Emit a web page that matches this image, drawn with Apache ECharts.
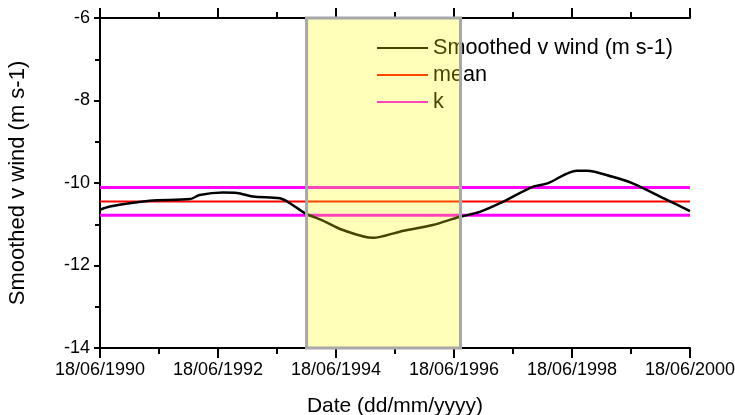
<!DOCTYPE html>
<html>
<head>
<meta charset="utf-8">
<script src="https://cdn.jsdelivr.net/npm/echarts@6/dist/echarts.min.js"></script>
<style>
  html, body { margin: 0; padding: 0; background: #fff; }
  #chart { width: 735px; height: 415px; }
</style>
</head>
<body>
<div id="chart"></div>
<script>
// data
const dates = [
  '1990-06-18', '1990-08-18', '1991-04-23', '1991-12-28', '1992-02-25', '1992-07-18',
  '1992-10-13', '1993-01-20', '1993-07-06', '1993-09-06', '1993-12-07', '1994-03-29',
  '1994-07-31', '1995-02-03', '1995-07-18', '1996-02-07', '1996-07-24', '1996-11-25',
  '1997-03-30', '1997-10-21', '1998-01-17', '1998-07-18', '1998-09-18', '1999-02-25',
  '1999-06-29', '2000-01-27', '2000-06-18'
];
const smoothedV = [
  -10.65, -10.57, -10.43, -10.39, -10.29, -10.23,
  -10.24, -10.33, -10.37, -10.49, -10.73, -10.91,
  -11.14, -11.33, -11.18, -11.02, -10.82, -10.70,
  -10.49, -10.09, -10.01, -9.70, -9.70, -9.85,
  -10.01, -10.41, -10.68
];
const meanValue = -10.45;
const kValues = [-10.11, -10.78];
const highlight = ['1993-12-18', '1996-07-28'];
const startDate = '1990-06-18';
const endDate = '2000-06-18';
const yearTicks = [1990, 1992, 1994, 1996, 1998, 2000];

// dates -> years after 18/06/1990 on a 0..10 axis
const t0 = Date.parse(startDate);
const t1 = Date.parse(endDate);
const toX = (d) => ((Date.parse(d) - t0) / (t1 - t0)) * 10;

const font = 'Arial, "Liberation Sans", sans-serif';
const chart = echarts.init(document.getElementById('chart'));

const axisLineStyle = { color: '#000', width: 2 };
const tickStyle = { width: 2, color: '#000' };

const option = {
  animation: false,
  backgroundColor: '#fff',
  textStyle: { fontFamily: font },
  grid: { left: 100, right: 45, top: 18, bottom: 67, outerBoundsMode: 'none' },
  legend: {
    orient: 'vertical',
    left: 371,
    top: 32,
    itemWidth: 51,
    itemHeight: 14,
    itemGap: 5,
    z: 4,
    itemStyle: { opacity: 0 },
    textStyle: { fontFamily: font, fontSize: 21.6, color: '#000' },
    data: ['Smoothed v wind (m s-1)', 'mean', 'k'],
  },
  xAxis: [
    {
      type: 'value',
      min: 0,
      max: 10,
      interval: 2,
      name: 'Date (dd/mm/yyyy)',
      nameLocation: 'middle',
      nameGap: 48,
      nameTextStyle: { fontFamily: font, fontSize: 21, color: '#000' },
      axisLine: { lineStyle: axisLineStyle },
      axisTick: { inside: false, length: 10, lineStyle: tickStyle },
      minorTick: { show: true, splitNumber: 2, length: 6, lineStyle: tickStyle },
      splitLine: { show: false },
      axisLabel: {
        margin: 13,
        fontSize: 18,
        color: '#000',
        fontFamily: font,
        formatter: (v) => '18/06/' + yearTicks[Math.round(v / 2)],
      },
    },
    {
      type: 'value',
      position: 'top',
      min: 0,
      max: 10,
      interval: 2,
      axisLine: { lineStyle: axisLineStyle },
      axisTick: { inside: false, length: 10, lineStyle: tickStyle },
      minorTick: { show: true, splitNumber: 2, length: 6, lineStyle: tickStyle },
      splitLine: { show: false },
      axisLabel: { show: false },
    },
  ],
  yAxis: [
    {
      type: 'value',
      min: -14,
      max: -6,
      interval: 2,
      name: 'Smoothed v wind (m s-1)',
      nameLocation: 'middle',
      nameGap: 71,
      nameTextStyle: { fontFamily: font, fontSize: 22, color: '#000' },
      axisLine: { show: true, lineStyle: axisLineStyle },
      axisTick: { show: true, inside: false, length: 6, lineStyle: tickStyle },
      minorTick: { show: true, splitNumber: 2, length: 5, lineStyle: tickStyle },
      splitLine: { show: false },
      axisLabel: { margin: 10, fontSize: 18, color: '#000', fontFamily: font },
    },
    {
      type: 'value',
      position: 'right',
      min: -14,
      max: -6,
      interval: 2,
      axisLine: { show: true, lineStyle: axisLineStyle },
      axisTick: { show: false },
      splitLine: { show: false },
      axisLabel: { show: false },
    },
  ],
  series: [
    {
      name: 'mean',
      type: 'line',
      symbol: 'none',
      color: '#ff0000',
      lineStyle: { color: '#ff0000', width: 2 },
      data: [[0, meanValue], [10, meanValue]],
    },
    {
      name: 'k',
      type: 'line',
      symbol: 'none',
      color: '#ff00ff',
      lineStyle: { color: '#ff00ff', width: 3 },
      data: [[0, kValues[0]], [10, kValues[0]]],
    },
    {
      name: 'k',
      type: 'line',
      symbol: 'none',
      color: '#ff00ff',
      lineStyle: { color: '#ff00ff', width: 3 },
      data: [[0, kValues[1]], [10, kValues[1]]],
    },
    {
      name: 'Smoothed v wind (m s-1)',
      type: 'line',
      symbol: 'none',
      smooth: 0.3,
      color: '#000',
      lineStyle: { color: '#000', width: 2.5 },
      data: dates.map((d, i) => [toX(d), smoothedV[i]]),
    },
    {
      name: 'highlight',
      type: 'line',
      symbol: 'none',
      z: 10,
      data: [],
      markArea: {
        silent: true,
        z: 10,
        itemStyle: {
          color: 'rgba(255, 255, 0, 0.27)',
          borderColor: '#a8a8a8',
          borderWidth: 3,
        },
        data: [[
          { xAxis: toX(highlight[0]), yAxis: -14 },
          { xAxis: toX(highlight[1]), yAxis: -6 },
        ]],
      },
    },
  ],
};

chart.setOption(option);
</script>
</body>
</html>
